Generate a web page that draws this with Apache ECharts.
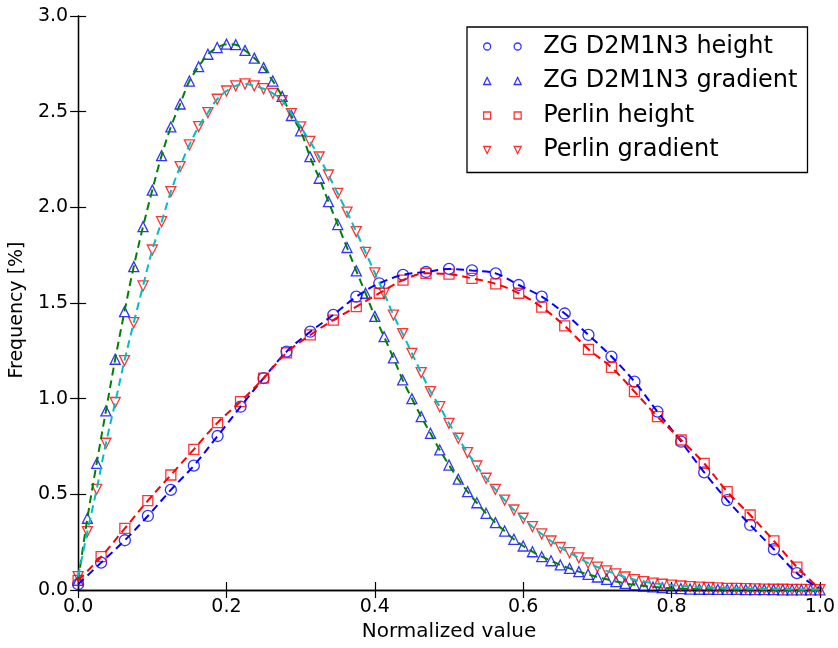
<!DOCTYPE html>
<html>
<head>
<meta charset="utf-8">
<script src="https://cdn.jsdelivr.net/npm/echarts@6/dist/echarts.min.js"></script>
<style>html,body{margin:0;padding:0;background:#fff}#c{width:838px;height:648px}</style>
</head>
<body>
<div id="c"></div>
<script>
// ---- data ----
const seriesNames = ['ZG D2M1N3 height', 'ZG D2M1N3 gradient', 'Perlin height', 'Perlin gradient'];
const xTicks = [0.0, 0.2, 0.4, 0.6, 0.8, 1.0];
const yTicks = [0.0, 0.5, 1.0, 1.5, 2.0, 2.5, 3.0];

const heightX = [0, 0.031, 0.063, 0.094, 0.125, 0.156, 0.188, 0.219, 0.25, 0.281, 0.313, 0.344, 0.375, 0.406, 0.438, 0.469,
  0.5, 0.531, 0.563, 0.594, 0.625, 0.656, 0.688, 0.719, 0.75, 0.781, 0.813, 0.844, 0.875, 0.906, 0.938, 0.969];
const zgHeight = [0.03, 0.143, 0.26, 0.387, 0.523, 0.65, 0.805, 0.958, 1.107, 1.246, 1.35, 1.438, 1.533, 1.603, 1.647, 1.662,
  1.678, 1.67, 1.655, 1.594, 1.533, 1.445, 1.333, 1.22, 1.089, 0.932, 0.775, 0.615, 0.47, 0.34, 0.213, 0.088];
const perlinHeight = [0.05, 0.174, 0.322, 0.467, 0.601, 0.735, 0.875, 0.985, 1.107, 1.24, 1.333, 1.411, 1.481, 1.551, 1.62, 1.655,
  1.651, 1.629, 1.6, 1.551, 1.478, 1.38, 1.258, 1.164, 1.037, 0.906, 0.784, 0.662, 0.514, 0.392, 0.257, 0.12];
// dashed fit lines of the height curves run on to the right edge
const heightTailX = [1.0];
const zgHeightTail = [0.005];
const perlinHeightTail = [0.005];

const gradX = [0, 0.0125, 0.025, 0.0375, 0.05, 0.0625, 0.075, 0.0875, 0.1, 0.1125, 0.125, 0.1375, 0.15, 0.1625, 0.175, 0.1875,
  0.2, 0.2125, 0.225, 0.2375, 0.25, 0.2625, 0.275, 0.2875, 0.3, 0.3125, 0.325, 0.3375, 0.35, 0.3625, 0.375, 0.3875,
  0.4, 0.4125, 0.425, 0.4375, 0.45, 0.4625, 0.475, 0.4875, 0.5, 0.5125, 0.525, 0.5375, 0.55, 0.5625, 0.575, 0.5875,
  0.6, 0.6125, 0.625, 0.6375, 0.65, 0.6625, 0.675, 0.6875, 0.7, 0.7125, 0.725, 0.7375, 0.75, 0.7625, 0.775, 0.7875,
  0.8, 0.8125, 0.825, 0.8375, 0.85, 0.8625, 0.875, 0.8875, 0.9, 0.9125, 0.925, 0.9375, 0.95, 0.9625, 0.975, 0.9875, 1.0];
const zgGradient = [0.05, 0.375, 0.662, 0.936, 1.206, 1.455, 1.69, 1.899, 2.09, 2.27, 2.42, 2.54, 2.66, 2.735, 2.8, 2.835,
  2.853, 2.85, 2.82, 2.78, 2.73, 2.66, 2.58, 2.48, 2.4, 2.265, 2.152, 2.03, 1.91, 1.79, 1.668, 1.551,
  1.43, 1.324, 1.213, 1.098, 1.0, 0.906, 0.819, 0.732, 0.653, 0.579, 0.514, 0.456, 0.401, 0.352, 0.308, 0.265,
  0.23, 0.2, 0.174, 0.153, 0.131, 0.113, 0.096, 0.082, 0.068, 0.056, 0.044, 0.035, 0.027, 0.021, 0.016, 0.012,
  0.009, 0.007, 0.005, 0.004, 0.004, 0.003, 0.003, 0.003, 0.002, 0.002, 0.002, 0.002, 0.001, 0.001, 0.001, 0.001, 0.001];
const perlinGradient = [0.07, 0.305, 0.526, 0.767, 0.98, 1.199, 1.397, 1.589, 1.777, 1.925, 2.082, 2.213, 2.326, 2.422, 2.495, 2.565,
  2.608, 2.635, 2.645, 2.635, 2.62, 2.596, 2.558, 2.49, 2.42, 2.345, 2.263, 2.169, 2.073, 1.975, 1.873, 1.765,
  1.657, 1.551, 1.437, 1.34, 1.237, 1.136, 1.037, 0.958, 0.871, 0.793, 0.718, 0.648, 0.584, 0.526, 0.47, 0.418,
  0.375, 0.331, 0.293, 0.256, 0.222, 0.195, 0.168, 0.141, 0.12, 0.1, 0.084, 0.068, 0.054, 0.044, 0.036, 0.03,
  0.025, 0.021, 0.018, 0.015, 0.013, 0.011, 0.009, 0.008, 0.007, 0.006, 0.005, 0.004, 0.004, 0.003, 0.003, 0.002, 0.002];

// ---- build ----
const BLUE = '#0000ff', RED = '#ff0000', GREEN = '#008000', CYAN = '#00bfbf';
const FONT = 'DejaVu Sans';
function pairs(xs, ys) { return xs.map((x, i) => [x, ys[i]]); }

const markerDefs = [
  { name: seriesNames[0], x: heightX, y: zgHeight, tx: heightTailX, ty: zgHeightTail, color: BLUE, line: BLUE, symbol: 'circle', size: 11, rot: 0,
    icon: 'path://M0,3.5a3.5,3.5 0 1,0 7,0a3.5,3.5 0 1,0 -7,0M30.5,3.5a3.5,3.5 0 1,0 7,0a3.5,3.5 0 1,0 -7,0' },
  { name: seriesNames[1], x: gradX, y: zgGradient, tx: [], ty: [], color: BLUE, line: GREEN, symbol: 'triangle', size: 10, rot: 0,
    icon: 'path://M3.5,0L7,7L0,7ZM34,0L37.5,7L30.5,7Z' },
  { name: seriesNames[2], x: heightX, y: perlinHeight, tx: heightTailX, ty: perlinHeightTail, color: RED, line: RED, symbol: 'rect', size: 10, rot: 0,
    icon: 'path://M0,0H7V7H0ZM30.5,0H37.5V7H30.5Z' },
  { name: seriesNames[3], x: gradX, y: perlinGradient, tx: [], ty: [], color: RED, line: CYAN, symbol: 'triangle', size: 10, rot: 180,
    icon: 'path://M0,0L7,0L3.5,7ZM30.5,0L37.5,0L34,7Z' }
];

const series = [];
markerDefs.forEach(d => {
  series.push({
    name: d.name, type: 'scatter', data: pairs(d.x, d.y),
    symbol: d.symbol, symbolSize: d.size, symbolRotate: d.rot,
    itemStyle: { color: 'rgba(0,0,0,0)', borderColor: d.color, borderWidth: 1.3 },
    emphasis: { disabled: true }, animation: false
  });
});
markerDefs.forEach(d => {
  series.push({
    name: d.name + ' fit', type: 'line', data: pairs(d.x, d.y).concat(pairs(d.tx, d.ty)), smooth: 0.35,
    showSymbol: false, symbol: 'none',
    lineStyle: { color: d.line, width: 2, type: [8, 5] },
    emphasis: { disabled: true }, animation: false, z: 3
  });
});

const axisLineStyle = { color: '#000', width: 1.3 };
const chart = echarts.init(document.getElementById('c'), null, { renderer: 'canvas' });
chart.setOption({
  animation: false,
  backgroundColor: '#fff',
  textStyle: { fontFamily: FONT },
  grid: { left: 77, right: 18, top: 16, bottom: 58, containLabel: false },
  legend: {
    orient: 'vertical', left: 467, top: 27,
    padding: [7, 10, 10, 16],
    itemGap: 9.5, itemWidth: 37.5, itemHeight: 7,
    backgroundColor: '#fff', borderColor: '#000', borderWidth: 1.3, borderRadius: 0,
    textStyle: { fontFamily: FONT, fontSize: 24, color: '#000', lineHeight: 25, padding: [0, 0, 0, 17] },
    selectedMode: false,
    data: markerDefs.map(d => ({
      name: d.name, icon: d.icon,
      itemStyle: { color: 'rgba(0,0,0,0)', borderColor: d.color, borderWidth: 1.3 }
    }))
  },
  xAxis: [
    { type: 'value', min: 0, max: 1, interval: 0.2, position: 'bottom',
      name: 'Normalized value', nameLocation: 'middle', nameGap: 32,
      nameTextStyle: { fontFamily: FONT, fontSize: 20, color: '#000' },
      axisLine: { show: true, lineStyle: axisLineStyle },
      axisTick: { show: true, inside: true, length: 8, lineStyle: { color: '#000', width: 1.2 } },
      axisLabel: { fontFamily: FONT, fontSize: 19, color: '#000', margin: 8, formatter: v => v.toFixed(1) },
      splitLine: { show: false } },
    { type: 'value', min: 0, max: 1, interval: 0.2, position: 'top',
      axisLine: { show: true, lineStyle: axisLineStyle },
      axisTick: { show: true, inside: true, length: 8, lineStyle: { color: '#000', width: 1.2 } },
      axisLabel: { show: false }, splitLine: { show: false } }
  ],
  yAxis: [
    { type: 'value', min: 0, max: 3, interval: 0.5, position: 'left',
      name: 'Frequency [%]', nameLocation: 'middle', nameGap: 47, nameRotate: 90,
      nameTextStyle: { fontFamily: FONT, fontSize: 19, color: '#000', padding: [0, 14, 0, 0] },
      axisLine: { show: true, lineStyle: axisLineStyle },
      axisTick: { show: true, inside: true, length: 8, lineStyle: { color: '#000', width: 1.2 } },
      axisLabel: { fontFamily: FONT, fontSize: 19, color: '#000', margin: 10, formatter: v => v.toFixed(1) },
      splitLine: { show: false } },
    { type: 'value', min: 0, max: 3, interval: 0.5, position: 'right',
      axisLine: { show: true, lineStyle: axisLineStyle },
      axisTick: { show: true, inside: true, length: 8, lineStyle: { color: '#000', width: 1.2 } },
      axisLabel: { show: false }, splitLine: { show: false } }
  ],
  series: series
});
</script>
</body>
</html>
